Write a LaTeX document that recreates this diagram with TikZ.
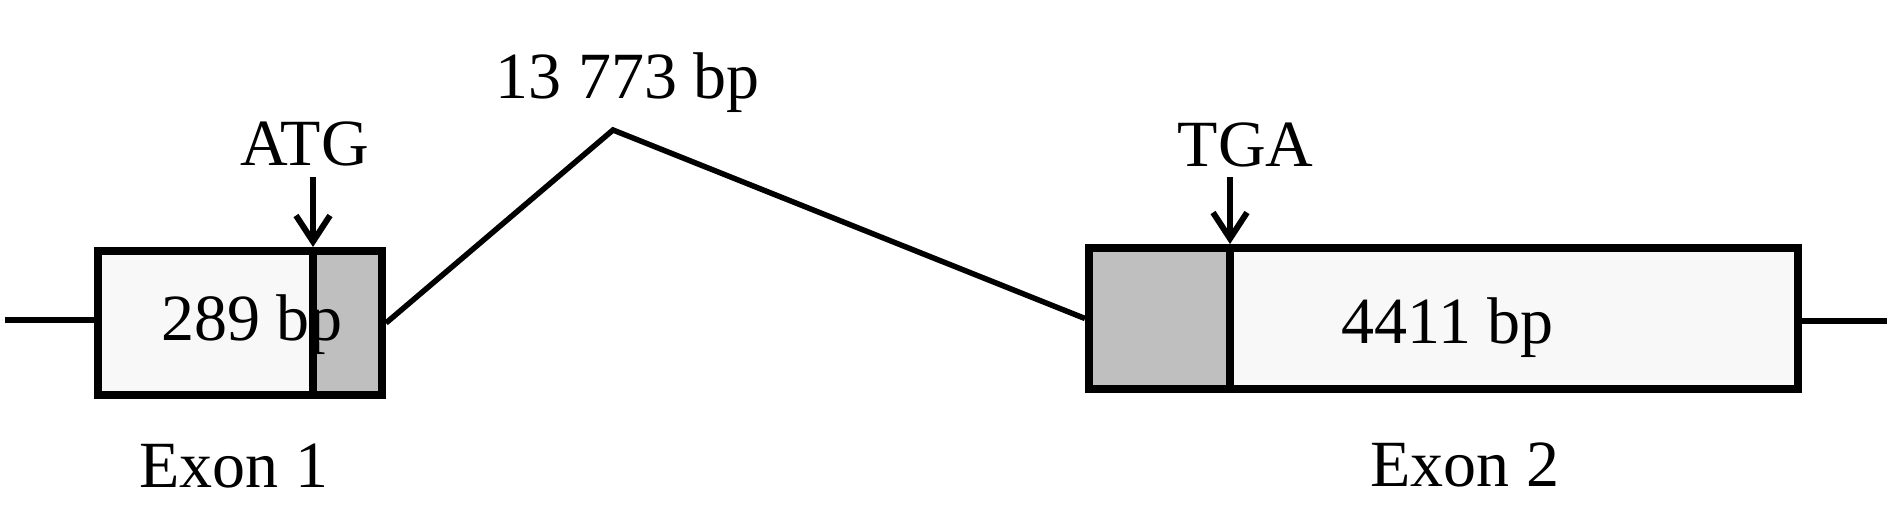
\documentclass[tikz,border=0pt]{standalone}
\usepackage{fontspec}
\setmainfont{Liberation Serif}
\usetikzlibrary{arrows.meta}
\definecolor{lightfill}{HTML}{F8F8F8}
\definecolor{grayfill}{HTML}{BFBFBF}
\begin{document}
\begin{tikzpicture}[x=1pt,y=-1pt,
  part/.style={draw=black,line width=8pt,rectangle,inner sep=0pt,minimum height=#1},
  lbl/.style={font=\fontsize{66}{70}\selectfont,anchor=base,inner sep=0pt},
  wire/.style={line width=5.5pt},
  marker/.style={line width=6pt,-{Straight Barb[length=26pt,width=34pt,line width=6pt]}}]
\useasboundingbox (0,0) rectangle (1889,527);
% exon 1
\node[part=144pt,fill=lightfill,minimum width=215pt] (e1a) at (205.5,323) {};
\node[part=144pt,fill=grayfill,minimum width=69pt] (e1b) at (347.5,323) {};
% exon 2
\node[part=141pt,fill=grayfill,minimum width=141pt] (e2a) at (1159.5,318.5) {};
\node[part=141pt,fill=lightfill,minimum width=568pt] (e2b) at (1514,318.5) {};
% flanking lines
\coordinate (lend) at (5,320);
\coordinate (rend) at (1887,321);
\draw[wire] (lend) -- (e1a.west |- lend);
\draw[wire] (e2b.east |- rend) -- (rend);
% intron
\coordinate (peak) at (613,130);
\draw[wire,line join=miter] (e1b.east) -- (peak) -- (e2a.west);
% markers
\coordinate (atgtop) at (313,177);
\coordinate (tgatop) at (1230,177);
\draw[marker] (atgtop) -- (atgtop |- e1a.north);
\draw[marker] (tgatop) -- (tgatop |- e2a.north);
% labels
\node[lbl] (atg) at (304.5,165) {ATG};
\node[lbl] (tga) at (1245.5,166) {TGA};
\node[lbl] (intr) at (627.5,98) {13 773 bp};
\node[lbl] (l1) at (252,340) {289 bp};
\node[lbl] (l2) at (1448,343) {4411 bp};
\node[lbl] (x1) at (234,487) {Exon 1};
\node[lbl] (x2) at (1465,486) {Exon 2};
\end{tikzpicture}
\end{document}
